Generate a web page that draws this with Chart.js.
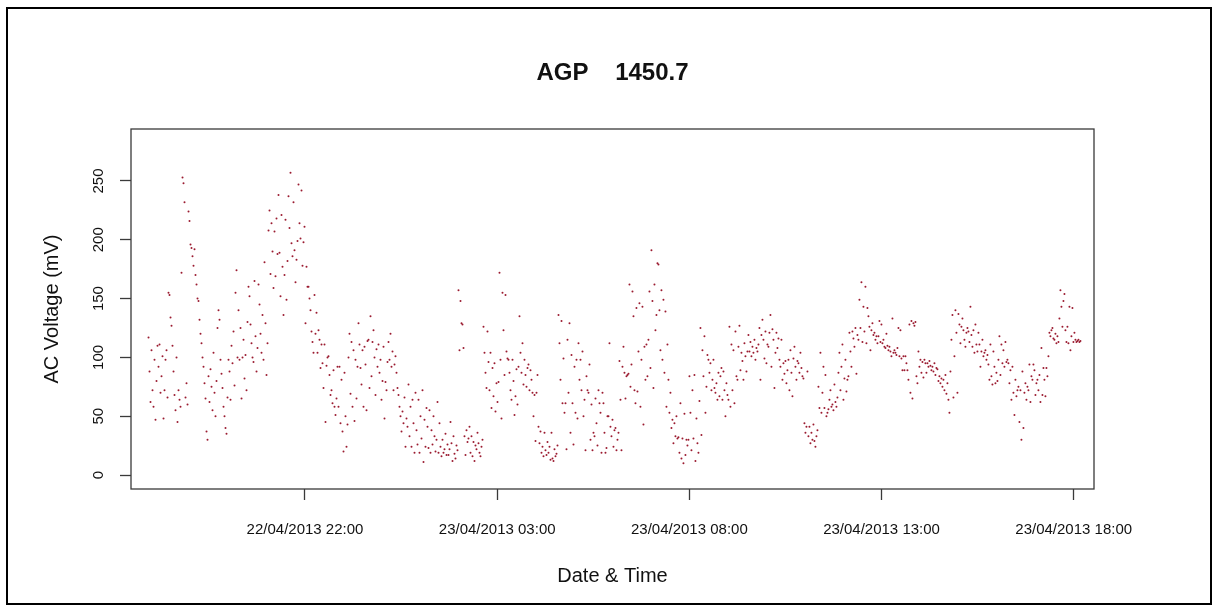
<!DOCTYPE html>
<html><head><meta charset="utf-8">
<script src="https://cdn.jsdelivr.net/npm/chart.js@4/dist/chart.umd.min.js"></script>
<style>html,body{margin:0;padding:0;background:#fff;}#wrap{width:1217px;height:610px;position:relative;}</style>
</head><body><div id="wrap"><canvas id="c" width="1217" height="610"></canvas></div>
<script>
// hours since 22/04/2013 00:00
const tickHours = [22, 27, 32, 37, 42];
const tickLabels = ["22/04/2013 22:00", "23/04/2013 03:00", "23/04/2013 08:00", "23/04/2013 13:00", "23/04/2013 18:00"];
const yTicks = [0, 50, 100, 150, 200, 250];
const startHour = 17.929;          // first sample ~17:56 on 22/04
const stepHours = 1 / 38.44;       // sample spacing
const acVoltage = [
117,88,62,106,72,58,98,47,80,110, 92,111,70,84,101,48,72,98,106,66, 155,153,134,127,110,88,68,55,100,45,
72,64,58,172,253,248,232,66,78,60, 224,216,196,193,186,178,192,170,162,150, 148,132,120,112,100,92,78,65,37,30,
84,62,90,75,55,104,70,50,80,125, 140,132,98,86,74,58,50,40,35,66, 98,88,64,110,95,122,76,155,174,100,
140,98,125,65,100,115,82,102,72,130, 160,152,128,112,100,96,165,118,88,108, 162,145,120,104,136,98,181,129,85,112,
208,225,171,214,190,159,207,169,218,188, 238,189,152,221,177,136,170,217,149,182, 237,210,257,197,186,232,191,164,183,199,
247,214,201,242,178,198,211,129,177,160, 160,150,140,122,113,104,153,120,138,104, 123,115,91,111,95,74,111,45,93,100,
101,85,68,72,61,89,58,51,65,92, 58,92,44,81,37,20,87,50,24,43, 100,120,69,113,58,106,46,98,65,92,
129,111,91,77,106,58,109,94,55,114, 115,74,135,84,113,123,100,68,107,92, 111,87,98,64,80,109,48,79,72,96,
113,98,120,92,105,72,94,101,87,74, 68,58,50,37,54,44,66,24,48,41, 77,33,58,24,64,44,19,70,38,26,
64,19,50,31,72,11,47,24,57,41, 23,55,19,38,26,50,33,20,30,62, 19,44,24,16,30,19,22,35,17,26,
17,22,45,27,12,33,18,14,25,21, 157,106,148,129,128,108,33,17,38,28, 31,41,19,33,16,28,12,25,22,36,
27,19,16,24,30,126,104,87,74,122, 96,72,104,57,91,67,95,54,78,62, 79,172,98,48,155,123,85,153,105,99,
98,87,72,64,98,80,51,67,90,60, 92,135,104,87,112,77,98,85,75,91, 94,72,89,81,70,50,68,29,70,85,
41,27,37,19,24,16,36,21,17,28, 19,24,13,36,14,12,22,16,18,25, 136,112,81,131,61,99,53,61,22,115,
70,129,36,102,61,26,92,53,98,48, 112,81,98,72,105,50,64,21,84,72, 70,94,30,60,21,36,33,65,44,25,
72,61,53,19,70,61,36,19,23,50, 50,112,41,33,47,24,38,40,21,30, 36,97,64,21,92,109,87,65,84,85,
86,162,75,94,156,135,72,61,142,71, 105,146,58,98,143,43,109,81,111,84, 115,156,91,191,148,74,162,123,136,180,
179,140,106,157,98,149,87,139,58,111, 81,53,70,40,47,27,44,33,50,31, 32,19,61,14,31,10,52,17,30,25,
30,84,53,21,72,31,85,12,48,27, 19,63,125,34,106,84,118,53,75,102, 98,87,95,72,81,98,74,70,78,64,
87,67,84,91,64,88,72,50,78,68, 64,126,58,111,72,106,61,122,84,81, 109,127,89,104,97,81,112,101,88,105,
119,105,113,101,109,104,115,98,108,105, 111,125,81,119,132,115,99,122,95,111, 109,121,136,92,124,115,74,104,121,108,
116,98,92,115,81,95,86,97,78,89, 98,72,106,87,67,99,109,92,81,97, 95,87,104,91,84,82,44,36,41,88,
33,41,27,36,30,43,29,24,33,38, 75,57,104,53,70,92,57,85,50,53, 56,64,72,58,60,55,77,62,58,66,
87,104,72,92,111,64,82,98,71,81, 84,121,105,92,122,116,109,125,86,119, 115,149,125,164,113,143,122,160,112,142,
135,126,106,123,129,119,121,115,118,112, 118,131,113,128,112,115,109,108,120,110, 106,109,105,101,133,104,106,104,102,108,
125,101,123,99,89,101,89,101,95,89, 81,128,70,131,65,129,127,130,84,78, 105,92,98,87,96,83,98,95,87,95,
92,97,93,89,92,88,95,85,91,90, 80,84,78,82,75,81,72,85,69,78, 64,53,88,115,136,66,101,140,121,70,
137,128,112,126,133,123,115,109,121,125, 122,113,143,119,109,123,104,128,111,105, 121,111,92,105,115,101,104,106,98,102,
94,81,111,84,77,105,92,78,87,80, 98,118,85,111,95,106,92,113,96,98, 95,78,89,64,92,70,51,81,67,72,
75,45,72,30,88,40,70,78,64,75, 72,94,62,84,81,94,89,68,78,81, 72,85,62,108,68,91,81,67,91,84,
101,121,118,123,125,116,115,120,112,118, 113,133,157,143,126,148,154,123,113,126, 112,143,106,118,142,113,121,115,113,114,
115,113,114
];

const points = acVoltage.map((v, i) => ({x: startHour + i * stepHours, y: v}));
const FONT = "'Liberation Sans', Arial, Helvetica, sans-serif";

const framePlugin = {
  id: 'frame',
  afterDraw(chart) {
    const {ctx, chartArea: a} = chart;
    ctx.save();
    ctx.strokeStyle = '#3a3a3a';
    ctx.lineWidth = 1.3;
    ctx.strokeRect(a.left, a.top, a.right - a.left, a.bottom - a.top);
    ctx.strokeStyle = '#000';
    ctx.lineWidth = 2;
    ctx.strokeRect(7, 8, 1204, 596);
    ctx.restore();
  }
};

new Chart(document.getElementById('c'), {
  type: 'scatter',
  data: {datasets: [{
    data: points,
    pointRadius: 1, pointHoverRadius: 1, borderWidth: 0,
    backgroundColor: '#9b1b30', pointBackgroundColor: '#9b1b30'
  }]},
  options: {
    responsive: false, animation: false, devicePixelRatio: 1,
    layout: {padding: {left: 8, right: 0, top: 0, bottom: 0}},
    plugins: {
      legend: {display: false}, tooltip: {enabled: false},
      title: {display: true, text: 'AGP    1450.7', color: '#111',
        font: {family: FONT, size: 24, weight: 'bold'},
        padding: {top: 58.6, bottom: 41.6}}
    },
    scales: {
      x: {
        type: 'linear', position: 'bottom', min: 17.473, max: 42.528,
        afterBuildTicks: s => { s.ticks = tickHours.map(v => ({value: v})); },
        afterFit: s => { s.height = 121; },
        ticks: {autoSkip: false, minRotation: 0, maxRotation: 0, padding: 21, color: '#111',
          font: {family: FONT, size: 15},
          callback: v => { const i = tickHours.indexOf(v); return i >= 0 ? tickLabels[i] : ''; }},
        grid: {display: true, drawOnChartArea: false, drawTicks: true, tickLength: 11, color: '#3a3a3a', tickWidth: 1.3},
        border: {display: false},
        title: {display: true, text: 'Date & Time', color: '#111',
          font: {family: FONT, size: 20}, padding: {top: 0, bottom: 22}}
      },
      y: {
        type: 'linear', position: 'left', min: -11.9, max: 294.2,
        afterBuildTicks: s => { s.ticks = yTicks.map(v => ({value: v})); },
        afterFit: s => { s.width = 123; },
        ticks: {minRotation: 90, maxRotation: 90, crossAlign: 'center', padding: 8.5, color: '#111',
          font: {family: FONT, size: 15}},
        grid: {display: true, drawOnChartArea: false, drawTicks: true, tickLength: 11, color: '#3a3a3a', tickWidth: 1.3},
        border: {display: false},
        title: {display: true, text: 'AC Voltage (mV)', color: '#111',
          font: {family: FONT, size: 20}, padding: {top: 32, bottom: 0}}
      },
      rightMargin: {
        type: 'linear', position: 'right', min: 0, max: 1,
        afterFit: s => { s.width = 123; },
        ticks: {display: false}, grid: {display: false}, border: {display: false}
      }
    }
  },
  plugins: [framePlugin]
});
</script></body></html>
